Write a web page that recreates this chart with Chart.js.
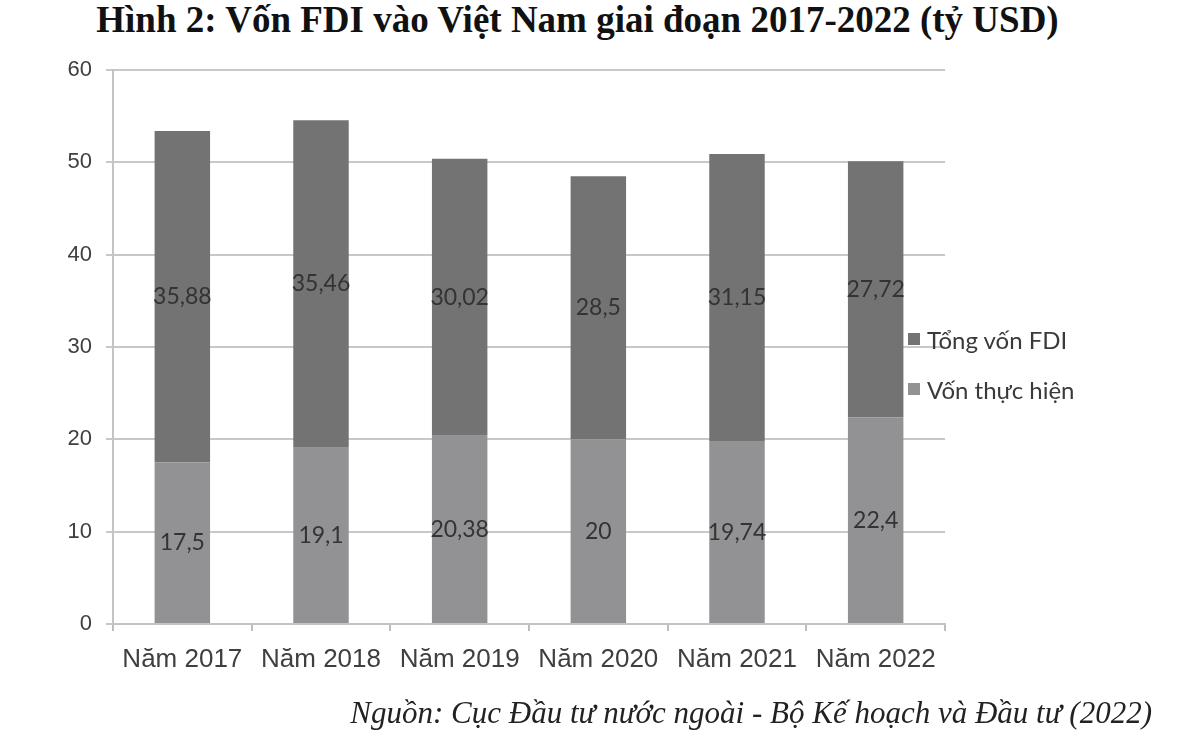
<!DOCTYPE html>
<html>
<head>
<meta charset="utf-8">
<script src="https://cdn.jsdelivr.net/npm/chart.js@4/dist/chart.umd.min.js"></script>
<style>
  html, body { margin: 0; padding: 0; background: #fff; }
  #wrap { position: relative; width: 1180px; height: 741px; overflow: hidden; }
  #title {
    position: absolute; left: 0; top: -2px; width: 1155px; text-align: center;
    font: bold 37px "Liberation Serif", "Times New Roman", serif; color: #111;
  }
  #source {
    position: absolute; right: 28px; top: 695px;
    font: italic 31px "Liberation Serif", "Times New Roman", serif; color: #222;
  }
  #legend { position: absolute; left: 908px; top: 314px; }
  .item { display: flex; align-items: center; height: 50px; font: 24px Lato, "Open Sans", sans-serif; color: #3a3a3a; }
  .box { width: 12px; height: 12px; margin-right: 7px; }
  canvas { position: absolute; left: 0; top: 0; }
</style>
</head>
<body>
<div id="wrap">
  <div id="title">Hình 2: Vốn FDI vào Việt Nam giai đoạn 2017-2022 (tỷ USD)</div>
  <canvas id="chart" width="1180" height="741"></canvas>
  <div id="legend"></div>
  <div id="source">Nguồn: Cục Đầu tư nước ngoài - Bộ Kế hoạch và Đầu tư (2022)</div>
</div>
<script>
// categories and values
const years = ['Năm 2017', 'Năm 2018', 'Năm 2019', 'Năm 2020', 'Năm 2021', 'Năm 2022'];
const vonThucHien = [17.5, 19.1, 20.38, 20, 19.74, 22.4];
const tongVonFDI = [35.88, 35.46, 30.02, 28.5, 31.15, 27.72];
const yTicks = [0, 10, 20, 30, 40, 50, 60];

const lightGrey = '#929294';
const darkGrey = '#737373';

// writes the value in the middle of each bar segment
const valueLabels = {
    id: 'valueLabels',
    afterDatasetsDraw(chart) {
        const ctx = chart.ctx;
        ctx.save();
        ctx.font = '23px Lato, "Open Sans", sans-serif';
        ctx.fillStyle = '#333';
        ctx.textAlign = 'center';
        ctx.textBaseline = 'middle';
        chart.data.datasets.forEach((ds, i) => {
            chart.getDatasetMeta(i).data.forEach((bar, j) => {
                const mid = (bar.y + bar.base) / 2;
                ctx.fillText(String(ds.data[j]).replace('.', ','), bar.x, mid);
            });
        });
        ctx.restore();
    }
};

const chart = new Chart(document.getElementById('chart'), {
    type: 'bar',
    data: {
        labels: years,
        datasets: [{
            label: 'Vốn thực hiện',
            data: vonThucHien,
            backgroundColor: lightGrey
        }, {
            label: 'Tổng vốn FDI',
            data: tongVonFDI,
            backgroundColor: darkGrey
        }]
    },
    options: {
        responsive: false,
        animation: false,
        layout: { padding: { top: 70, right: 235, bottom: 0, left: 40 } },
        datasets: { bar: { categoryPercentage: 1, barPercentage: 0.4 } },
        plugins: { legend: { display: false }, tooltip: { enabled: false } },
        scales: {
            x: {
                stacked: true,
                afterFit: s => { s.height = 117; },
                grid: { offset: true, drawOnChartArea: false, tickLength: 7, color: '#bdbdbd', lineWidth: 2 },
                border: { color: '#c4c4c4', width: 2 },
                ticks: { padding: 13, color: '#3f3f3f', font: { family: '"Liberation Sans", Arial', size: 26 } }
            },
            y: {
                stacked: true,
                min: 0, max: 60,
                afterFit: s => { s.width = 73; },
                afterBuildTicks: s => { s.ticks = yTicks.map(v => ({ value: v })); },
                grid: { color: '#c8c8c8', lineWidth: 2, tickLength: 7 },
                border: { color: '#c4c4c4', width: 2 },
                ticks: { padding: 14, color: '#3f3f3f', font: { family: '"Liberation Sans", Arial', size: 22 } }
            }
        }
    },
    plugins: [valueLabels]
});

// legend, top series first as in the picture
const legend = document.getElementById('legend');
[...chart.data.datasets].reverse().forEach(ds => {
    const item = document.createElement('div');
    item.className = 'item';
    item.innerHTML = '<span class="box" style="background:' + ds.backgroundColor + '"></span>' + ds.label;
    legend.appendChild(item);
});
</script>
</body>
</html>
